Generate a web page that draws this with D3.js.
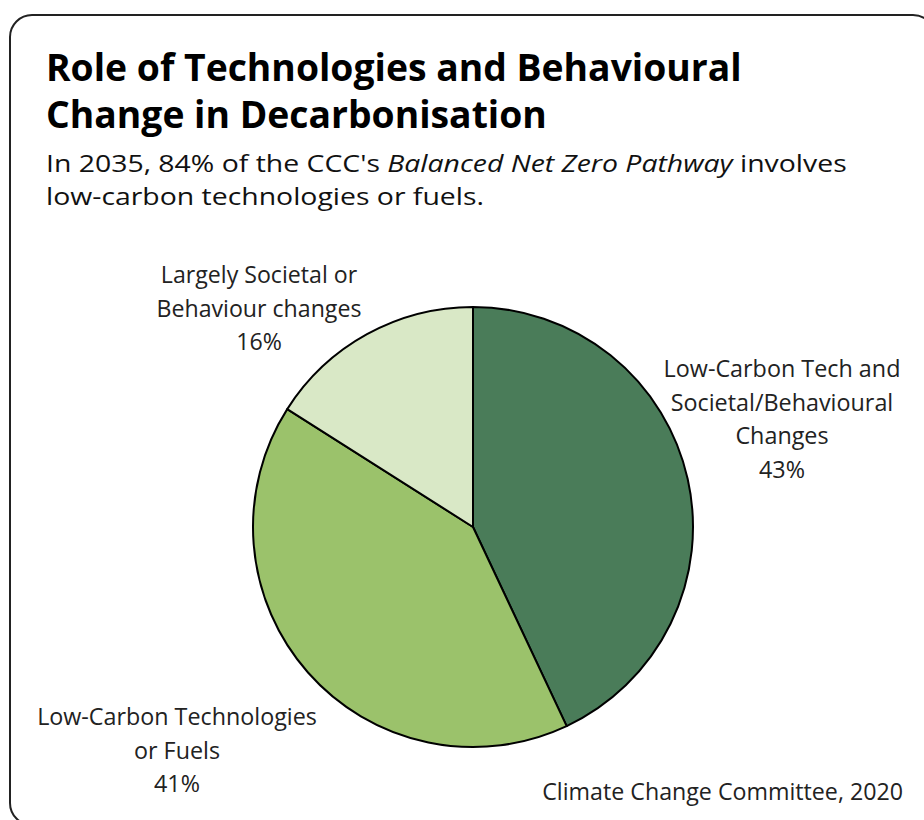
<!DOCTYPE html>
<html>
<head>
<meta charset="utf-8">
<script src="https://cdn.jsdelivr.net/npm/d3@7"></script>
<style>
  html, body { margin: 0; padding: 0; background: #ffffff; }
  svg { display: block; font-family: "Open Sans", "Noto Sans", sans-serif; }
</style>
</head>
<body>
<svg id="chart" width="924" height="820"></svg>
<script>
// Share of the 2035 Balanced Net Zero Pathway abatement, by type
const categories = [
  "Low-Carbon Tech and Societal/Behavioural Changes",
  "Low-Carbon Technologies or Fuels",
  "Largely Societal or Behaviour changes"
];
const values = [43, 41, 16];
const labelLines = [
  ["Low-Carbon Tech and", "Societal/Behavioural", "Changes"],
  ["Low-Carbon Technologies", "or Fuels"],
  ["Largely Societal or", "Behaviour changes"]
];
const colors = ["#4a7c59", "#9bc26b", "#d9e8c6"];

const titleLines = ["Role of Technologies and Behavioural", "Change in Decarbonisation"];
const source = "Climate Change Committee, 2020";

const svg = d3.select("#chart");

// Fit a text element's font size so that its rendered width equals `width`
function fitSize(sel, base, width) {
  sel.attr("font-size", base);
  const w = sel.node().getComputedTextLength();
  const s = base * width / w;
  sel.attr("font-size", s);
  return s;
}

// Card frame
svg.append("rect")
  .attr("x", 10).attr("y", 15)
  .attr("width", 925).attr("height", 810)
  .attr("rx", 22).attr("ry", 22)
  .attr("fill", "#fff")
  .attr("stroke", "#222").attr("stroke-width", 2);

// Title
const t1 = svg.append("text").attr("x", 46).attr("y", 81)
  .attr("font-weight", 700).attr("fill", "#000").text(titleLines[0]);
const tSize = fitSize(t1, 34, 696);
svg.append("text").attr("x", 46).attr("y", 128)
  .attr("font-weight", 700).attr("fill", "#000")
  .attr("font-size", tSize).text(titleLines[1]);

// Subtitle: fixed size, stretched horizontally to the full line width
const subSize = 24;
const sub = svg.append("g").attr("fill", "#111").attr("font-size", subSize);
const s1 = sub.append("text").attr("x", 0).attr("y", 172);
s1.append("tspan").text("In 2035, 84% of the CCC's ");
s1.append("tspan").attr("font-style", "italic").text("Balanced Net Zero Pathway");
s1.append("tspan").text(" involves");
sub.append("text").attr("x", 0).attr("y", 205).text("low-carbon technologies or fuels.");
const sx = 801 / s1.node().getComputedTextLength();
sub.attr("transform", `translate(46,0) scale(${sx},1)`);

// Pie
const cx = 473, cy = 527, r = 220;
const data = categories.map((c, i) => ({ category: c, value: values[i], lines: labelLines[i], color: colors[i] }));
const pie = d3.pie().sort(null).value(d => d.value);
const arc = d3.arc().innerRadius(0).outerRadius(r);
const arcs = pie(data);

const g = svg.append("g").attr("transform", `translate(${cx},${cy})`);
g.selectAll("path.slice")
  .data(arcs)
  .join("path")
  .attr("class", "slice")
  .attr("d", arc)
  .attr("fill", d => d.data.color)
  .attr("stroke", "#000")
  .attr("stroke-width", 2)
  .attr("stroke-linejoin", "round");

// Slice labels: category lines followed by the percentage
const labelPos = [
  { x: 782, y: 377, width: 237, ref: 0 },
  { x: 177, y: 725, width: 280, ref: 0 },
  { x: 259, y: 283, width: 205, ref: 1 }
];
const lineH = 33.5;
arcs.forEach((a, i) => {
  const p = labelPos[i];
  const lines = a.data.lines.concat([a.data.value + "%"]);
  const txt = svg.append("text")
    .attr("text-anchor", "middle")
    .attr("fill", "#222");
  lines.forEach((ln, j) => {
    txt.append("tspan").attr("x", p.x).attr("y", p.y + j * lineH).text(ln);
  });
  // size taken from the reference line's width
  const probe = svg.append("text").attr("font-size", 20).text(a.data.lines[p.ref]);
  const w = probe.node().getComputedTextLength();
  probe.remove();
  txt.attr("font-size", 20 * p.width / w);
});

// Source note
const src = svg.append("text").attr("x", 903).attr("y", 800)
  .attr("text-anchor", "end").attr("fill", "#222").text(source);
fitSize(src, 20, 361);
</script>
</body>
</html>
